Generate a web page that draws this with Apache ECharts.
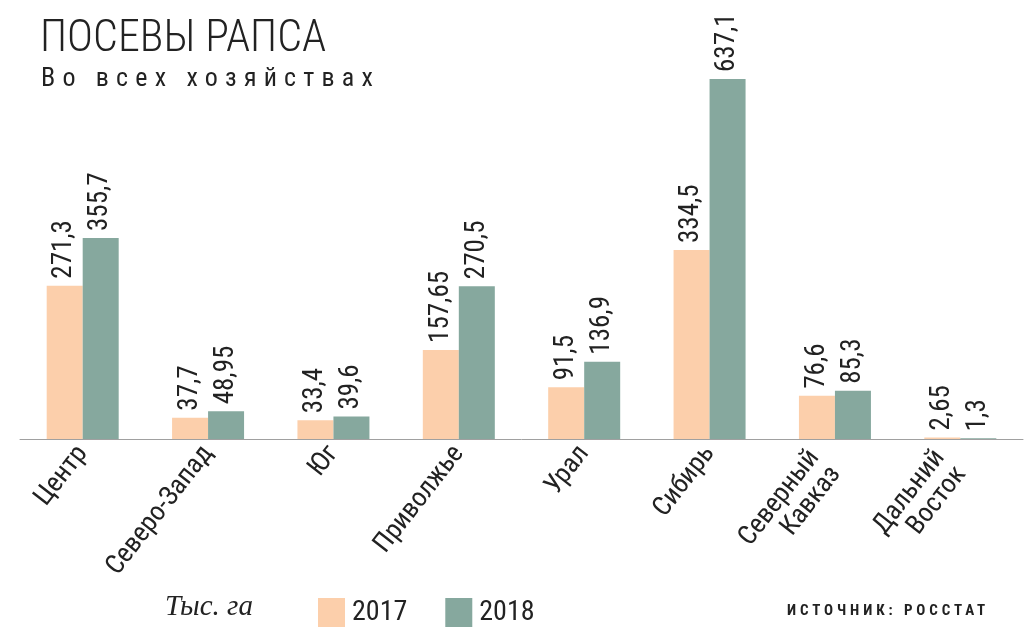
<!DOCTYPE html>
<html><head><meta charset="utf-8">
<script src="https://cdn.jsdelivr.net/npm/echarts@6/dist/echarts.min.js"></script>
<style>
html,body{margin:0;padding:0;background:#fff}
#wrap{position:relative;width:1024px;height:629px}
#c{width:1024px;height:629px}
.t{position:absolute;color:#222;white-space:nowrap;font-family:'Liberation Sans Narrow','Roboto Condensed','Arial Narrow',Roboto,sans-serif}
#sub{left:41px;top:62px;font-size:26px;letter-spacing:7.2px}
#src{left:787px;top:601px;font-size:15px;font-weight:bold;letter-spacing:3.9px}
</style>
</head><body><div id="wrap"><div id="c"></div>
<div class="t" id="sub">Во всех хозяйствах</div>
<div class="t" id="src">ИСТОЧНИК: РОССТАТ</div>
</div>
<script>
const categories = ['Центр','Северо-Запад','Юг','Приволжье','Урал','Сибирь','Северный\nКавказ','Дальний\nВосток'];
const values2017 = [271.3, 37.7, 33.4, 157.65, 91.5, 334.5, 76.6, 2.65];
const values2018 = [355.7, 48.95, 39.6, 270.5, 136.9, 637.1, 85.3, 1.3];
const seriesNames = ['2017','2018'];
const NARROW = "'Liberation Sans Narrow','Roboto Condensed','Arial Narrow',Roboto,sans-serif";
const fmt = p => String(p.value).replace('.', ',');
const catData = categories.map(c => c.indexOf('\n') >= 0 ? {value:c, textStyle:{padding:[0,16,0,0]}} : c);
const chart = echarts.init(document.getElementById('c'), null, {renderer:'canvas'});
const labelCfg = {show:true, position:'top', rotate:90, align:'left', verticalAlign:'middle', distance:7, formatter:fmt, fontFamily:NARROW, fontSize:27, color:'#222'};
chart.setOption({
  animation:false,
  backgroundColor:'#fff',
  title:[
    {text:'ПОСЕВЫ РАПСА', left:35, top:13, textStyle:{fontFamily:NARROW, fontWeight:300, fontSize:44, color:'#222'}},
    {text:'Тыс. га', left:160, top:588, textStyle:{fontFamily:"'Liberation Serif',serif", fontStyle:'italic', fontWeight:'normal', fontSize:29, color:'#222'}}
  ],
  legend:{data:seriesNames, left:313, top:593, itemWidth:27, itemHeight:29, itemGap:38, icon:'rect',
    textStyle:{fontFamily:NARROW, fontSize:28, color:'#222', padding:[0,0,0,2]}},
  grid:{left:20, right:1, top:79, bottom:190, containLabel:false},
  xAxis:{type:'category', data:catData, axisTick:{show:false},
    axisLine:{lineStyle:{color:'#a0a0a0', width:1}},
    axisLabel:{rotate:52, interval:0, fontFamily:NARROW, fontSize:27, color:'#222', margin:10, lineHeight:27}},
  yAxis:{type:'value', min:0, max:637.1, show:false, splitLine:{show:false}},
  series:[
    {name:'2017', type:'bar', data:values2017, barWidth:36, barGap:'0%', itemStyle:{color:'#fccfab'}, label:labelCfg},
    {name:'2018', type:'bar', data:values2018, barWidth:36, barGap:'0%', itemStyle:{color:'#86a89e'}, label:labelCfg}
  ]
});
</script></body></html>
